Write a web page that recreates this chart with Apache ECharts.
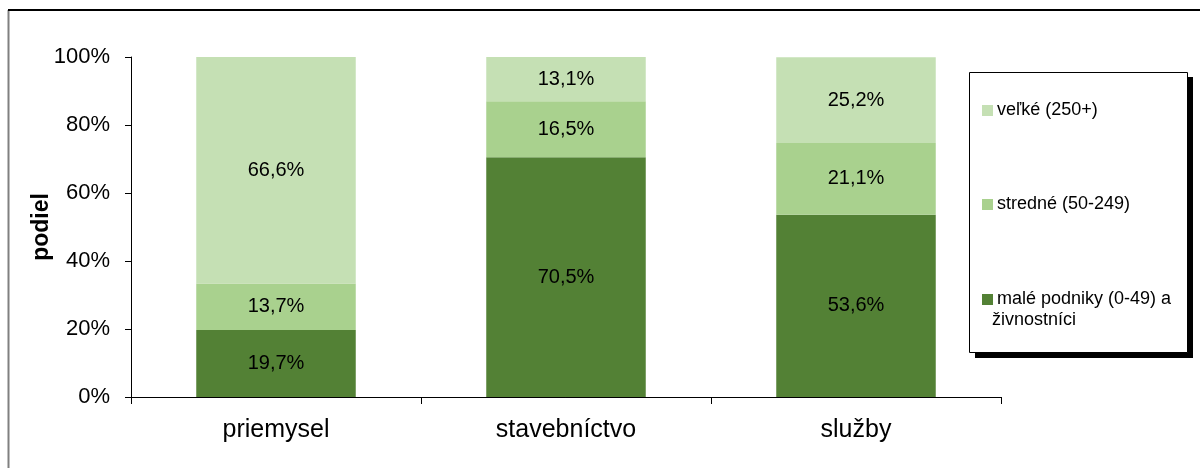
<!DOCTYPE html>
<html>
<head>
<meta charset="utf-8">
<script src="https://cdn.jsdelivr.net/npm/echarts@6/dist/echarts.min.js"></script>
<style>html,body{margin:0;padding:0;background:#fff}#c{width:1200px;height:468px}</style>
</head>
<body>
<div id="c"></div>
<script>
const categories = ['priemysel', 'stavebníctvo', 'služby'];
const seriesNames = ['malé podniky (0-49) a\nživnostníci', 'stredné (50-249)', 'veľké (250+)'];
const maleValues = [19.7, 70.5, 53.6];
const stredneValues = [13.7, 16.5, 21.1];
const velkeValues = [66.6, 13.1, 25.2];
const yTicks = [0, 20, 40, 60, 80, 100];
const colors = ['#538135', '#A9D18E', '#C5E0B4'];

const chart = echarts.init(document.getElementById('c'), null, {renderer: 'canvas'});
const font = '"Liberation Sans", Arial, sans-serif';
const dataSets = [maleValues, stredneValues, velkeValues];

const series = dataSets.map((d, i) => ({
  name: seriesNames[i],
  type: 'bar',
  stack: 'total',
  barWidth: '55%',
  data: d,
  itemStyle: {color: colors[i]},
  label: {
    show: true, position: 'inside', color: '#000', fontFamily: font, fontSize: 20,
    formatter: p => p.value.toFixed(1).replace('.', ',') + '%'
  },
  emphasis: {disabled: true}
}));

const legendPos = [{top: 95, idx: 2}, {top: 189, idx: 1}, {top: 284, idx: 0}];
const legends = legendPos.map(l => ({
  data: [seriesNames[l.idx]],
  left: 977, top: l.top,
  itemWidth: 11, itemHeight: 11, itemGap: 0,
  icon: 'rect', selectedMode: false,
  formatter: name => name.split('\n')[0],
  textStyle: {fontFamily: font, fontSize: 18, color: '#000', lineHeight: 21, padding: [0, 0, 0, -1]}
}));

chart.setOption({
  animation: false,
  grid: {left: 131, top: 57, width: 870, bottom: 71},
  xAxis: {
    type: 'category', data: categories,
    axisLine: {lineStyle: {color: '#000', width: 1}},
    axisTick: {show: true, length: 7, lineStyle: {color: '#000'}},
    axisLabel: {color: '#000', fontFamily: font, fontSize: 25, margin: 21}
  },
  yAxis: {
    type: 'value', min: 0, max: 100, interval: 20,
    name: 'podiel', nameLocation: 'middle', nameGap: 78, nameRotate: 90, nameMoveOverlap: false,
    nameTextStyle: {fontFamily: font, fontSize: 23, fontWeight: 'bold', color: '#000'},
    axisLine: {show: true, lineStyle: {color: '#000', width: 1}},
    axisTick: {show: true, length: 6, lineStyle: {color: '#000'}},
    splitLine: {show: false},
    axisLabel: {color: '#000', fontFamily: font, fontSize: 22, margin: 21,
      formatter: v => yTicks.includes(v) ? v + '%' : ''}
  },
  legend: legends,
  graphic: [
    {type: 'line', shape: {x1: 8.5, y1: 10, x2: 8.5, y2: 468}, style: {stroke: '#808080', lineWidth: 2}},
    {type: 'line', shape: {x1: 8, y1: 10, x2: 1200, y2: 10}, style: {stroke: '#000', lineWidth: 2}},
    {type: 'rect', shape: {x: 975, y: 77, width: 218, height: 281}, style: {fill: '#000'}, z: -1},
    {type: 'rect', shape: {x: 969.5, y: 72.5, width: 218, height: 280}, style: {fill: '#fff', stroke: '#000', lineWidth: 1}, z: 0},
    {type: 'text', left: 992, top: 311, z: 10,
      style: {text: seriesNames[0].split('\n')[1], font: '18px ' + font, fill: '#000'}}
  ],
  series: series
});
</script>
</body>
</html>
